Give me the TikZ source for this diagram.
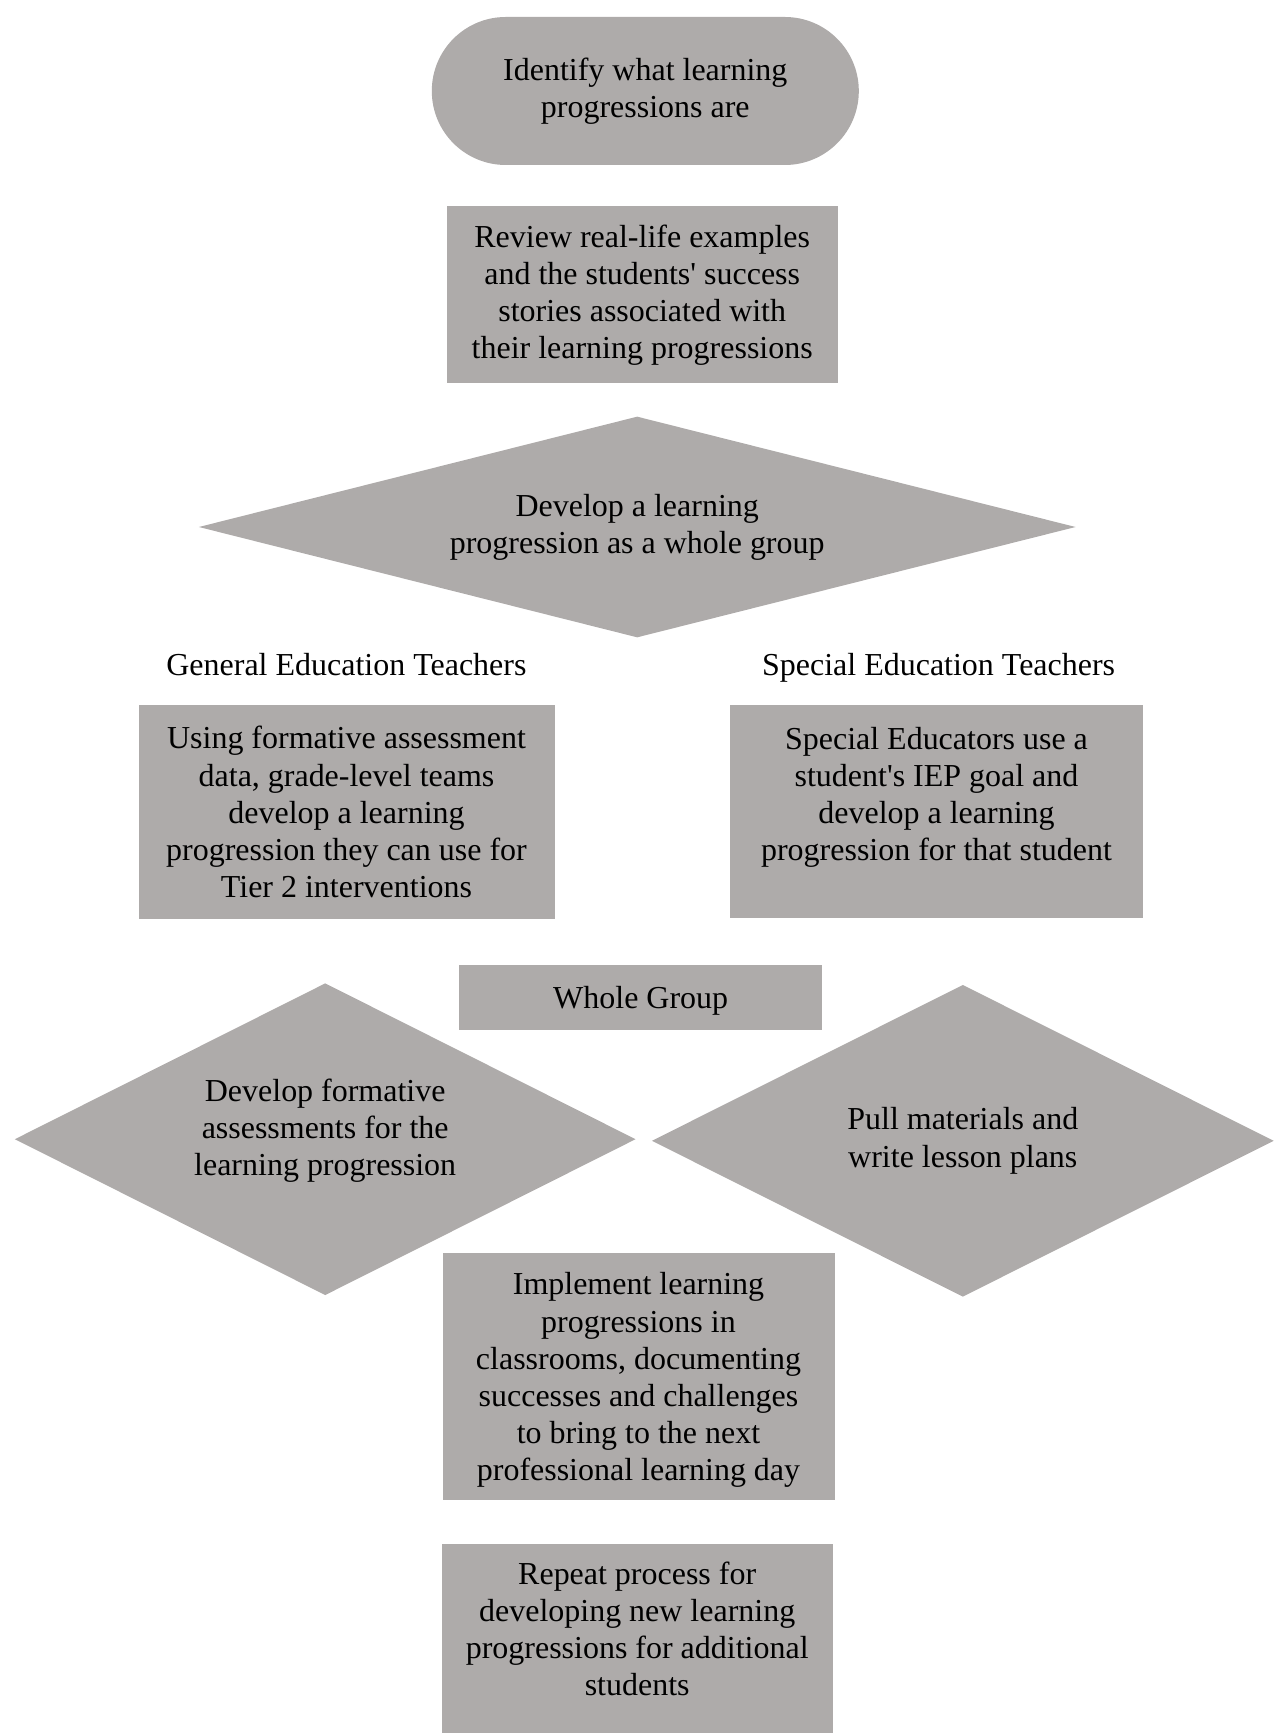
\documentclass[tikz,border=0pt]{standalone}
\usepackage{fontspec}
\setmainfont{Liberation Serif}
\usetikzlibrary{shapes.geometric}
\definecolor{boxgray}{RGB}{174,171,170}
\tikzset{
  box/.style={rectangle,fill=boxgray},
  pill/.style={rectangle,fill=boxgray,rounded corners=35.5pt},
  choice/.style={diamond,fill=boxgray,shape aspect=2},
  widechoice/.style={diamond,fill=boxgray,shape aspect=4},
  heading/.style={anchor=base}
}
\begin{document}
\begin{tikzpicture}[x=0.48pt,y=-0.48pt,font=\fontsize{15.35}{17.8}\selectfont,
  every node/.style={align=center,inner sep=0pt}]
\clip (0,0) rectangle (1275,1733);
\node[pill,minimum width=204.96pt,minimum height=71.04pt] (identify) at (645.3,91) {Identify what learning\\progressions are};
\node[box,minimum width=187.68pt,minimum height=84.96pt] (review) at (642.2,295) {Review real-life examples\\and the students\textquotesingle{} success\\stories associated with\\their learning progressions};
\node[widechoice,minimum width=420.96pt,minimum height=106.08pt] (develop) at (637.2,527) {Develop a learning\\progression as a whole group};
\node[heading] (gened) at (346.4,675) {General Education Teachers};
\node[heading] (sped) at (938.6,675) {Special Education Teachers};
\node[box,minimum width=199.68pt,minimum height=102.72pt] (tier) at (346.5,812) {Using formative assessment\\data, grade-level teams\\develop a learning\\progression they can use for\\Tier 2 interventions};
\node[box,minimum width=198.24pt,minimum height=102.24pt] (iep) at (936.5,811.5) {};
\node (ieptext) at (936.5,797) {Special Educators use a\\student\textquotesingle{}s IEP goal and\\develop a learning\\progression for that student};
\node[box,minimum width=174.24pt,minimum height=31.2pt,text depth=0pt] (whole) at (640.7,997.3) {Whole Group};
\node[choice,minimum width=298.08pt,minimum height=149.76pt] (formative) at (325.2,1139.2) {};
\node (formativetext) at (325.2,1131) {Develop formative\\assessments for the\\learning progression};
\node[choice,minimum width=298.56pt,minimum height=149.76pt] (lessons) at (962.8,1140.8) {Pull materials and\\write lesson plans};
\node[box,minimum width=188.16pt,minimum height=118.56pt] (implement) at (638.5,1376.4) {};
\node (implementtext) at (638.5,1380) {Implement learning\\progressions in\\classrooms, documenting\\successes and challenges\\to bring to the next\\professional learning day};
\node[box,minimum width=187.68pt,minimum height=96pt] (repeat) at (637.2,1644) {};
\node (repeattext) at (637.2,1629) {Repeat process for\\developing new learning\\progressions for additional\\students};
\end{tikzpicture}
\end{document}
